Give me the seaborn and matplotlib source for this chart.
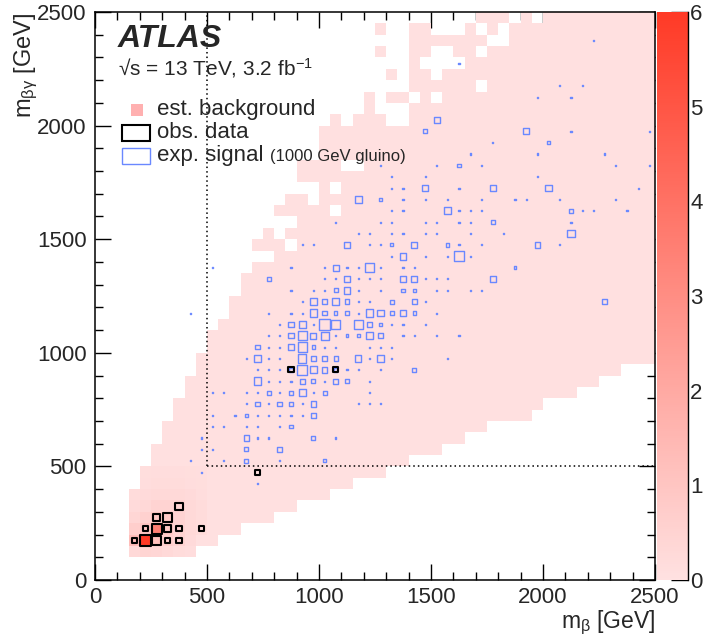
import numpy as np
import matplotlib
matplotlib.use("Agg")
import matplotlib.pyplot as plt
from matplotlib.colors import LinearSegmentedColormap
from matplotlib.patches import Rectangle
from matplotlib.collections import PatchCollection
import seaborn as sns

BIN = 50          # GeV per bin
NBINS = 50        # 0 .. 2500 GeV

# ---- estimated background (shape of the filled region) ----
# lower edge of the filled band: from x >= low_x[i] the band starts at low_y[i]
bkg_low_x = [150, 400, 550, 650, 800, 900, 1050, 1150, 1300, 1400, 1550, 1650, 1750, 1950, 2000, 2150, 2250, 2350]
bkg_low_y = [100, 150, 200, 250, 300, 350, 400, 450, 500, 550, 600, 650, 700, 750, 800, 850, 900, 950]
# left edge of the band per row: from y >= left_y[i] the band starts at left_x[i]
bkg_left_y = [100, 400, 500, 600, 700, 800, 900, 1000, 1100, 1150, 1250, 1350, 1400, 1450, 1500, 1550,
              1600, 1650, 1700, 1750, 1850, 1900, 2000, 2050, 2150, 2450]
bkg_left_x = [150, 200, 250, 300, 350, 400, 450, 500, 550, 600, 650, 700, 800, 700, 750, 900,
              800, 850, 1000, 900, 1000, 1000, 1150, 1200, 1400, 1700]
# empty cells inside the band (lower-left corner, GeV)
hole_x = [850, 800, 1050, 950, 1050, 1100, 1150, 1300, 1350, 1250, 1300, 1350, 1250, 1400, 1500,
          1700, 1500, 1450, 1500, 1550, 1600, 1500, 1550, 1700, 1750, 1800, 1500, 1550, 1600, 1700, 1800,
          1850, 1950]
hole_y = [1450, 1500, 1600, 1650, 1700, 1800, 1800, 2000, 2000, 2050, 2050, 2050, 2100, 2100, 2100,
          2150, 2200, 2250, 2250, 2250, 2250, 2300, 2300, 2300, 2350, 2350, 2400, 2400, 2400, 2400, 2400,
          2450, 2450]
# isolated filled cells outside the band
extra_x = [1050, 1300, 1250, 1250]
extra_y = [2000, 2200, 2300, 2400]
bkg_level = 0.05

# low-mass background peak (rows: y = 100..450, cols: x = 150..450)
peak_x = [150, 200, 250, 300, 350, 400, 450]
peak_y = [100, 150, 200, 250, 300, 350, 400, 450]
peak_val = [
    [0.30, 0.45, 0.40, 0.30, 0.20, 0.15, 0.00],
    [1.30, 6.00, 1.20, 0.70, 0.50, 0.25, 0.00],
    [0.70, 1.00, 3.50, 0.90, 0.50, 0.30, 0.20],
    [0.40, 0.60, 0.90, 0.90, 0.50, 0.30, 0.20],
    [0.25, 0.35, 0.50, 0.50, 0.50, 0.30, 0.20],
    [0.20, 0.25, 0.30, 0.30, 0.30, 0.25, 0.15],
    [0.00, 0.15, 0.20, 0.20, 0.20, 0.15, 0.12],
    [0.00, 0.12, 0.15, 0.15, 0.15, 0.12, 0.10],
]

# ---- observed data (bin centres, counts) ----
obs_x = [175, 225, 275, 325, 375, 225, 275, 325, 375, 475, 275, 325, 375, 725, 875, 1075]
obs_y = [175, 175, 175, 175, 175, 225, 225, 225, 225, 225, 275, 275, 325, 475, 925, 925]
obs_n = [1, 5, 3, 1, 1, 1, 4, 2, 1, 1, 2, 3, 2, 1, 1, 1]

# ---- expected signal, 1000 GeV gluino (bin centres, yields) ----
sig_x = [725,
         475,
         425, 575, 675, 825, 1025,
         475, 525, 675, 825,
         475, 675, 725, 775, 975, 1075,
         525, 575, 675, 725, 825, 875,
         525, 625, 675, 725, 775, 825, 875, 925, 975,
         675, 725, 775, 825, 875, 925, 975, 1175, 1225, 1275,
         525, 575, 675, 725, 775, 825, 875, 925, 975, 1025, 1225,
         725, 775, 825, 875, 925, 975, 1025, 1075, 1125, 1225,
         725, 775, 825, 875, 925, 975, 1025, 1075, 1125, 1175, 1275, 1425,
         675, 725, 775, 825, 925, 975, 1025, 1075, 1175, 1225, 1275, 1325, 1575,
         725, 775, 825, 875, 925, 975, 1025, 1075, 1225, 1275, 1325,
         775, 825, 875, 925, 975, 1025, 1075, 1125, 1175, 1225, 1275, 1375, 1425, 1525, 1625,
         825, 875, 925, 975, 1025, 1075, 1175, 1225, 1275, 1325, 1375, 1475,
         425, 775, 875, 925, 975, 1025, 1075, 1125, 1175, 1225, 1275, 1325, 1375, 1425, 1525,
         925, 975, 1025, 1075, 1125, 1175, 1225, 1325, 1425, 1475, 2275,
         875, 975, 1025, 1075, 1125, 1175, 1275, 1375, 1425, 1525, 1575, 1675, 1725,
         775, 1025, 1075, 1125, 1175, 1225, 1275, 1375, 1425, 1475, 1525, 1575, 1775,
         525, 875, 1025, 1075, 1125, 1175, 1225, 1275, 1375, 1425, 1875,
         1325, 1375, 1475, 1575, 1625, 1675,
         925, 975, 1125, 1225, 1275, 1325, 1425, 1575, 1625, 1725, 1975, 2075,
         1175, 1225, 1325, 1375, 1475, 1525, 1675, 1825, 2125,
         1075, 1275, 1325, 1475, 1525, 1625, 1675, 1775, 2125,
         1325, 1375, 1575, 1625, 1675, 1725, 2125, 2175, 2225, 2375,
         1175, 1275, 1375, 1475, 1575, 1725, 1875, 1925, 2075, 2325,
         1325, 1375, 1475, 1625, 1775, 2025, 2425,
         1325, 1475, 1975,
         1275, 1525, 1625, 1725, 2325, 2475,
         1675, 1975, 2275,
         1775, 2025,
         1475, 1925, 2125, 2475,
         1525,
         1975, 2125,
         2075, 2175,
         1625,
         2225]
sig_y = ([425] * 1 + [475] * 1 + [525] * 5 + [575] * 4 + [625] * 6 + [675] * 6 + [725] * 9
         + [775] * 10 + [825] * 11 + [875] * 10 + [925] * 12 + [975] * 13 + [1025] * 11
         + [1075] * 15 + [1125] * 12 + [1175] * 15 + [1225] * 11 + [1275] * 13 + [1325] * 13
         + [1375] * 11 + [1425] * 6 + [1475] * 12 + [1525] * 9 + [1575] * 9 + [1625] * 10
         + [1675] * 10 + [1725] * 7 + [1775] * 3 + [1825] * 6 + [1875] * 3 + [1925] * 2
         + [1975] * 4 + [2025] * 1 + [2125] * 2 + [2175] * 2 + [2275] * 1 + [2375] * 1)
sig_n = [0.008,
         0.008,
         0.008, 0.008, 0.13, 0.008, 0.09,
         0.008, 0.014, 0.13, 0.23,
         0.008, 0.23, 0.008, 0.008, 0.13, 0.008,
         0.008, 0.008, 0.008, 0.008, 0.008, 0.09,
         0.008, 0.008, 0.09, 0.008, 0.008, 0.008, 0.008, 0.008, 0.23,
         0.008, 0.17, 0.008, 0.17, 0.09, 0.008, 0.23, 0.008, 0.008, 0.008,
         0.008, 0.008, 0.008, 0.008, 0.13, 0.008, 0.13, 0.35, 0.008, 0.13, 0.008,
         0.43, 0.008, 0.008, 0.008, 0.17, 0.13, 0.008, 0.17, 0.13, 0.008,
         0.008, 0.008, 0.008, 0.09, 0.80, 0.35, 0.23, 0.09, 0.008, 0.008, 0.008, 0.13,
         0.008, 0.43, 0.008, 0.008, 0.51, 0.23, 0.17, 0.13, 0.29, 0.008, 0.35, 0.008, 0.008,
         0.17, 0.008, 0.008, 0.23, 0.69, 0.09, 0.008, 0.008, 0.008, 0.008, 0.008,
         0.008, 0.008, 0.23, 0.60, 0.29, 0.51, 0.008, 0.06, 0.06, 0.35, 0.23, 0.008, 0.008, 0.008, 0.008,
         0.008, 0.23, 0.35, 0.008, 0.91, 0.60, 0.69, 0.17, 0.09, 0.008, 0.008, 0.008,
         0.008, 0.008, 0.008, 0.008, 0.43, 0.17, 0.09, 0.09, 0.008, 0.43, 0.35, 0.13, 0.35, 0.09, 0.008,
         0.008, 0.35, 0.17, 0.35, 0.17, 0.008, 0.008, 0.13, 0.17, 0.008, 0.23,
         0.008, 0.008, 0.008, 0.13, 0.35, 0.008, 0.008, 0.09, 0.09, 0.008, 0.008, 0.008, 0.008,
         0.13, 0.008, 0.008, 0.29, 0.008, 0.008, 0.008, 0.23, 0.29, 0.008, 0.008, 0.008, 0.29,
         0.008, 0.008, 0.008, 0.29, 0.008, 0.008, 0.60, 0.008, 0.008, 0.008, 0.06,
         0.008, 0.35, 0.008, 0.008, 0.80, 0.008,
         0.008, 0.008, 0.35, 0.008, 0.008, 0.06, 0.29, 0.09, 0.008, 0.008, 0.23, 0.008,
         0.008, 0.008, 0.014, 0.008, 0.008, 0.008, 0.008, 0.008, 0.43,
         0.008, 0.008, 0.008, 0.008, 0.008, 0.008, 0.008, 0.13, 0.008,
         0.008, 0.008, 0.35, 0.008, 0.008, 0.008, 0.09, 0.014, 0.008, 0.008,
         0.35, 0.09, 0.008, 0.008, 0.008, 0.008, 0.008, 0.008, 0.008, 0.008,
         0.008, 0.008, 0.29, 0.008, 0.29, 0.35, 0.008,
         0.008, 0.008, 0.008,
         0.008, 0.008, 0.09, 0.008, 0.008, 0.022,
         0.008, 0.008, 0.008,
         0.008, 0.09,
         0.13, 0.29, 0.008, 0.008,
         0.29,
         0.008, 0.008,
         0.008, 0.008,
         0.008,
         0.008]

SIG_MAX = 1.0
OBS_MAX = 5.0
SR_MIN = 500      # signal region corner

BKG_LOW_COLOR = "#ffe1e1"
BKG_HIGH_COLOR = "#ff3a26"
SIG_COLOR = "#6a88ff"


def step_lookup(starts, values, v):
    i = np.searchsorted(starts, v, side="right") - 1
    return values[i] if i >= 0 else None


def build_background():
    grid = np.zeros((NBINS, NBINS))     # [row (y), col (x)]
    for j in range(NBINS):
        y = j * BIN
        left = step_lookup(bkg_left_y, bkg_left_x, y)
        for k in range(NBINS):
            x = k * BIN
            low = step_lookup(bkg_low_x, bkg_low_y, x)
            if left is None or low is None:
                continue
            if x >= left and y >= low:
                grid[j, k] = bkg_level
    for x, y in zip(hole_x, hole_y):
        grid[y // BIN, x // BIN] = 0
    for x, y in zip(extra_x, extra_y):
        grid[y // BIN, x // BIN] = bkg_level
    for r, y in enumerate(peak_y):
        for c, x in enumerate(peak_x):
            if peak_val[r][c] > 0:
                grid[y // BIN, x // BIN] = max(grid[y // BIN, x // BIN], peak_val[r][c])
    return grid


def boxes(xs, ys, ns, nmax):
    rects = []
    for x, y, n in zip(xs, ys, ns):
        side = np.sqrt(n / nmax)
        rects.append(Rectangle((x / BIN - side / 2, y / BIN - side / 2), side, side))
    return rects


sns.set_style("white")
plt.rcParams["font.family"] = ["Liberation Sans", "DejaVu Sans"]
plt.rcParams["mathtext.fontset"] = "custom"
plt.rcParams["mathtext.rm"] = "Liberation Sans"
plt.rcParams["mathtext.it"] = "Liberation Sans:italic"
plt.rcParams["mathtext.bf"] = "Liberation Sans:bold"
plt.rcParams["mathtext.default"] = "regular"

W, H = 707, 637
fig = plt.figure(figsize=(W / 100, H / 100), dpi=100)
ax = fig.add_axes([95 / W, 1 - 580 / H, 560 / W, 568 / H])
cax = fig.add_axes([657 / W, 1 - 580 / H, 31 / W, 568 / H])

bkg = build_background()
cmap = LinearSegmentedColormap.from_list("bkg", [BKG_LOW_COLOR, BKG_HIGH_COLOR])
sns.heatmap(bkg, mask=bkg <= 0, cmap=cmap, vmin=0, vmax=6, ax=ax, cbar_ax=cax,
            xticklabels=False, yticklabels=False)
ax.set_xlim(0, NBINS)
ax.set_ylim(0, NBINS)

# expected signal and observed data boxes
ax.add_collection(PatchCollection(boxes(sig_x, sig_y, sig_n, SIG_MAX), facecolor="none",
                                  edgecolor=SIG_COLOR, linewidth=1.0))
ax.add_collection(PatchCollection(boxes(obs_x, obs_y, obs_n, OBS_MAX), facecolor="none",
                                  edgecolor="black", linewidth=1.5))

# signal region boundary
sr = SR_MIN / BIN
ax.plot([sr, sr], [sr, NBINS], color="black", lw=1.1, ls=(0, (1, 2)))
ax.plot([sr, NBINS], [sr, sr], color="black", lw=1.1, ls=(0, (1, 2)))

# axes, ticks
for s in ax.spines.values():
    s.set_visible(True)
    s.set_color("black")
    s.set_linewidth(1.1)
ticks = np.arange(0, 2501, 500)
ax.set_xticks(ticks / BIN)
ax.set_xticklabels([str(t) for t in ticks], rotation=0)
ax.set_yticks(ticks / BIN)
ax.set_yticklabels([str(t) for t in ticks], rotation=0)
ax.set_xticks(np.arange(0, 2501, 100) / BIN, minor=True)
ax.set_yticks(np.arange(0, 2501, 100) / BIN, minor=True)
ax.tick_params(which="both", direction="in", top=True, right=True, bottom=True, left=True,
               color="black", width=1.0, labelsize=16)
ax.tick_params(which="major", length=11.5)
ax.tick_params(which="minor", length=5.8)
ax.tick_params(axis="x", pad=5)
ax.tick_params(axis="y", pad=6)

fig.text(655 / W, 1 - 628 / H, r"m$_{\beta}$ [GeV]", fontsize=16.5, ha="right", va="baseline")
fig.text(40 / W, 1 - 12 / H, r"m$_{\beta\gamma}$ [GeV]", fontsize=17, ha="right", va="top",
         rotation=90)

# colour bar
cbar = ax.collections[0].colorbar
cbar.set_ticks(range(0, 7))
cbar.outline.set_visible(False)
cax.spines["right"].set_visible(True)
cax.spines["right"].set_color("black")
cax.spines["right"].set_linewidth(1.0)
cax.tick_params(direction="in", length=12, width=1.0, color="black", labelsize=16, pad=1.5,
                right=True, left=False)

# ATLAS label
fig.text(118 / W, 1 - 47 / H, "ATLAS", fontsize=23, fontweight="bold", fontstyle="italic",
         va="baseline")
fig.text(118 / W, 1 - 75 / H, "√s = 13 TeV, 3.2 fb$^{-1}$", fontsize=15, va="baseline")

# legend
fig.add_artist(Rectangle((131 / W, 1 - 116 / H), 12 / W, 12 / H, transform=fig.transFigure,
                         facecolor="#ffb0b0", edgecolor="none"))
fig.add_artist(Rectangle((122 / W, 1 - 141 / H), 28 / W, 16 / H, transform=fig.transFigure,
                         facecolor="none", edgecolor="black", linewidth=1.5))
fig.add_artist(Rectangle((122 / W, 1 - 164 / H), 28 / W, 16 / H, transform=fig.transFigure,
                         facecolor="none", edgecolor=SIG_COLOR, linewidth=1.0))
fig.text(157 / W, 1 - 115 / H, "est. background", fontsize=16, va="baseline")
fig.text(157 / W, 1 - 138 / H, "obs. data", fontsize=16, va="baseline")
fig.text(157 / W, 1 - 161 / H, "exp. signal", fontsize=16, va="baseline")
fig.text(270 / W, 1 - 161 / H, "(1000 GeV gluino)", fontsize=12, va="baseline")

fig.savefig("out.png", dpi=100)
